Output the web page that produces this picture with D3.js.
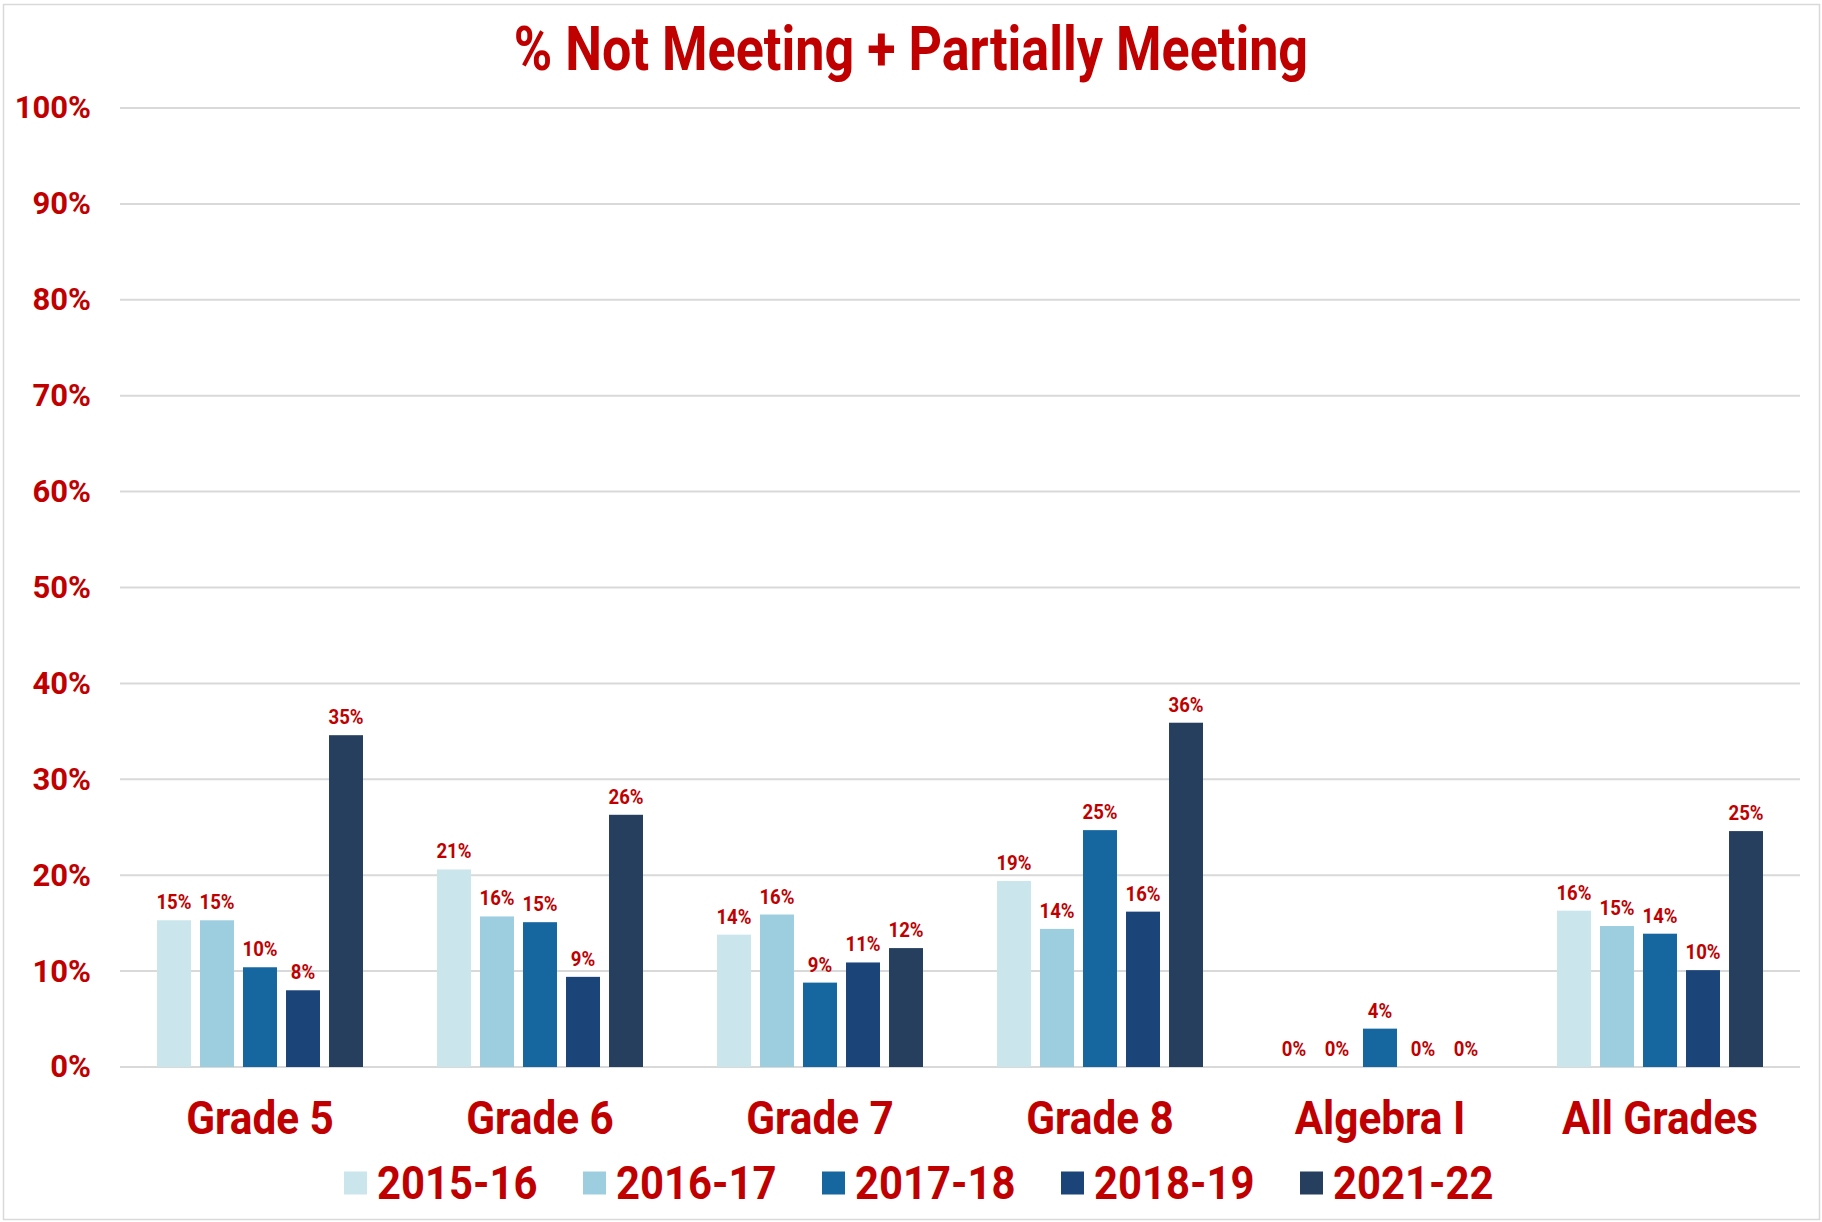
<!DOCTYPE html>
<html>
<head>
<meta charset="utf-8">
<script src="https://cdn.jsdelivr.net/npm/d3@7"></script>
<style>
  body { margin: 0; background: #fff; }
  text { font-family: Roboto, "Noto Sans", sans-serif; font-weight: bold; fill: #c00000; }
</style>
</head>
<body>
<script>
// chart data
const categories = ["Grade 5", "Grade 6", "Grade 7", "Grade 8", "Algebra I", "All Grades"];
const years = ["2015-16", "2016-17", "2017-18", "2018-19", "2021-22"];
const yr2015 = [0.153, 0.206, 0.138, 0.194, 0.000, 0.163];
const yr2016 = [0.153, 0.157, 0.159, 0.144, 0.000, 0.147];
const yr2017 = [0.104, 0.151, 0.088, 0.247, 0.040, 0.139];
const yr2018 = [0.080, 0.094, 0.109, 0.162, 0.000, 0.101];
const yr2021 = [0.346, 0.263, 0.124, 0.359, 0.000, 0.246];
const yTicks = [0, 0.1, 0.2, 0.3, 0.4, 0.5, 0.6, 0.7, 0.8, 0.9, 1.0];
const colors = ["#cae6ec", "#9dcedf", "#1666a0", "#1b4478", "#263f5f"];
const title = "% Not Meeting + Partially Meeting";

const seriesValues = [yr2015, yr2016, yr2017, yr2018, yr2021];
const data = categories.map((c, i) => ({
  category: c,
  values: years.map((y, j) => ({ year: y, value: seriesValues[j][i] }))
}));

const outerWidth = 1822, outerHeight = 1222;
const margin = {top: 108, right: 22, bottom: 155, left: 120};
const width = outerWidth - margin.left - margin.right;
const height = outerHeight - margin.top - margin.bottom;

const outerSvg = d3.select("body").append("svg")
  .attr("width", outerWidth)
  .attr("height", outerHeight);

// chart border
outerSvg.append("rect")
  .attr("x", 3.5).attr("y", 4.5)
  .attr("width", outerWidth - 6).attr("height", outerHeight - 7)
  .attr("fill", "none")
  .attr("stroke", "#d9d9d9")
  .attr("stroke-width", 1.5);

// condensed look: squeeze text horizontally around its anchor
const squeeze = (sel, k) => sel.each(function() {
  const t = d3.select(this);
  const x = +t.attr("x") || 0, y = +t.attr("y") || 0;
  t.attr("x", 0).attr("y", 0)
   .attr("transform", "translate(" + x + "," + y + ") scale(" + k + ",1)");
});

outerSvg.append("text")
  .attr("x", outerWidth / 2).attr("y", 70)
  .attr("text-anchor", "middle")
  .style("font-size", "62px")
  .text(title)
  .call(squeeze, 0.84);

const svg = outerSvg.append("g")
  .attr("transform", "translate(" + margin.left + "," + margin.top + ")");

const yScale = d3.scaleLinear().domain([0, 1]).range([height, 0]);
const x0 = d3.scaleBand().domain(categories).range([0, width]).padding(0);
const groupWidth = 206;
const x1 = d3.scaleBand().domain(years).range([0, groupWidth]).paddingInner(0.21).paddingOuter(0);
const color = d3.scaleOrdinal().domain(years).range(colors);

// gridlines
svg.append("g")
  .selectAll("line")
  .data(yTicks)
  .join("line")
  .attr("x1", 0).attr("x2", width)
  .attr("y1", d => yScale(d)).attr("y2", d => yScale(d))
  .attr("stroke", "#d9d9d9")
  .attr("stroke-width", 2);

// y axis labels
const yAxis = d3.axisLeft(yScale).tickValues(yTicks).tickFormat(d3.format(".0%")).tickSize(0).tickPadding(29);
const y = svg.append("g").call(yAxis);
y.select(".domain").remove();
y.selectAll("text")
  .attr("fill", null)
  .style("font-size", "31px");

// bars
const groups = svg.selectAll(".group")
  .data(data)
  .join("g")
  .attr("class", "group")
  .attr("transform", d => "translate(" + (x0(d.category) + (x0.bandwidth() - groupWidth) / 2) + ",0)");

groups.selectAll("rect")
  .data(d => d.values)
  .join("rect")
  .attr("x", d => x1(d.year))
  .attr("width", x1.bandwidth())
  .attr("y", d => yScale(d.value))
  .attr("height", d => height - yScale(d.value))
  .attr("fill", d => color(d.year));

groups.selectAll(".lbl")
  .data(d => d.values)
  .join("text")
  .attr("class", "lbl")
  .attr("x", d => x1(d.year) + x1.bandwidth() / 2)
  .attr("y", d => yScale(d.value) - 11)
  .attr("text-anchor", "middle")
  .style("font-size", "20px")
  .text(d => Math.round(d.value * 100) + "%")
  .call(squeeze, 0.93);

// category labels
const xAxis = d3.axisBottom(x0).tickSize(0).tickPadding(34);
const x = svg.append("g").attr("transform", "translate(0," + height + ")").call(xAxis);
x.select(".domain").remove();
x.selectAll("text")
  .attr("fill", null)
  .attr("dy", "0.71em")
  .style("font-size", "47px")
  .call(squeeze, 0.9);

// legend
const legend = outerSvg.append("g").attr("transform", "translate(344,1183)");
const item = legend.selectAll("g")
  .data(years)
  .join("g")
  .attr("transform", (d, i) => "translate(" + i * 239 + ",0)");
item.append("rect")
  .attr("x", 0).attr("y", -11.5)
  .attr("width", 23).attr("height", 23)
  .attr("fill", d => color(d));
item.append("text")
  .attr("x", 33).attr("y", 16)
  .style("font-size", "47px")
  .text(d => d)
  .call(squeeze, 0.89);
</script>
</body>
</html>
